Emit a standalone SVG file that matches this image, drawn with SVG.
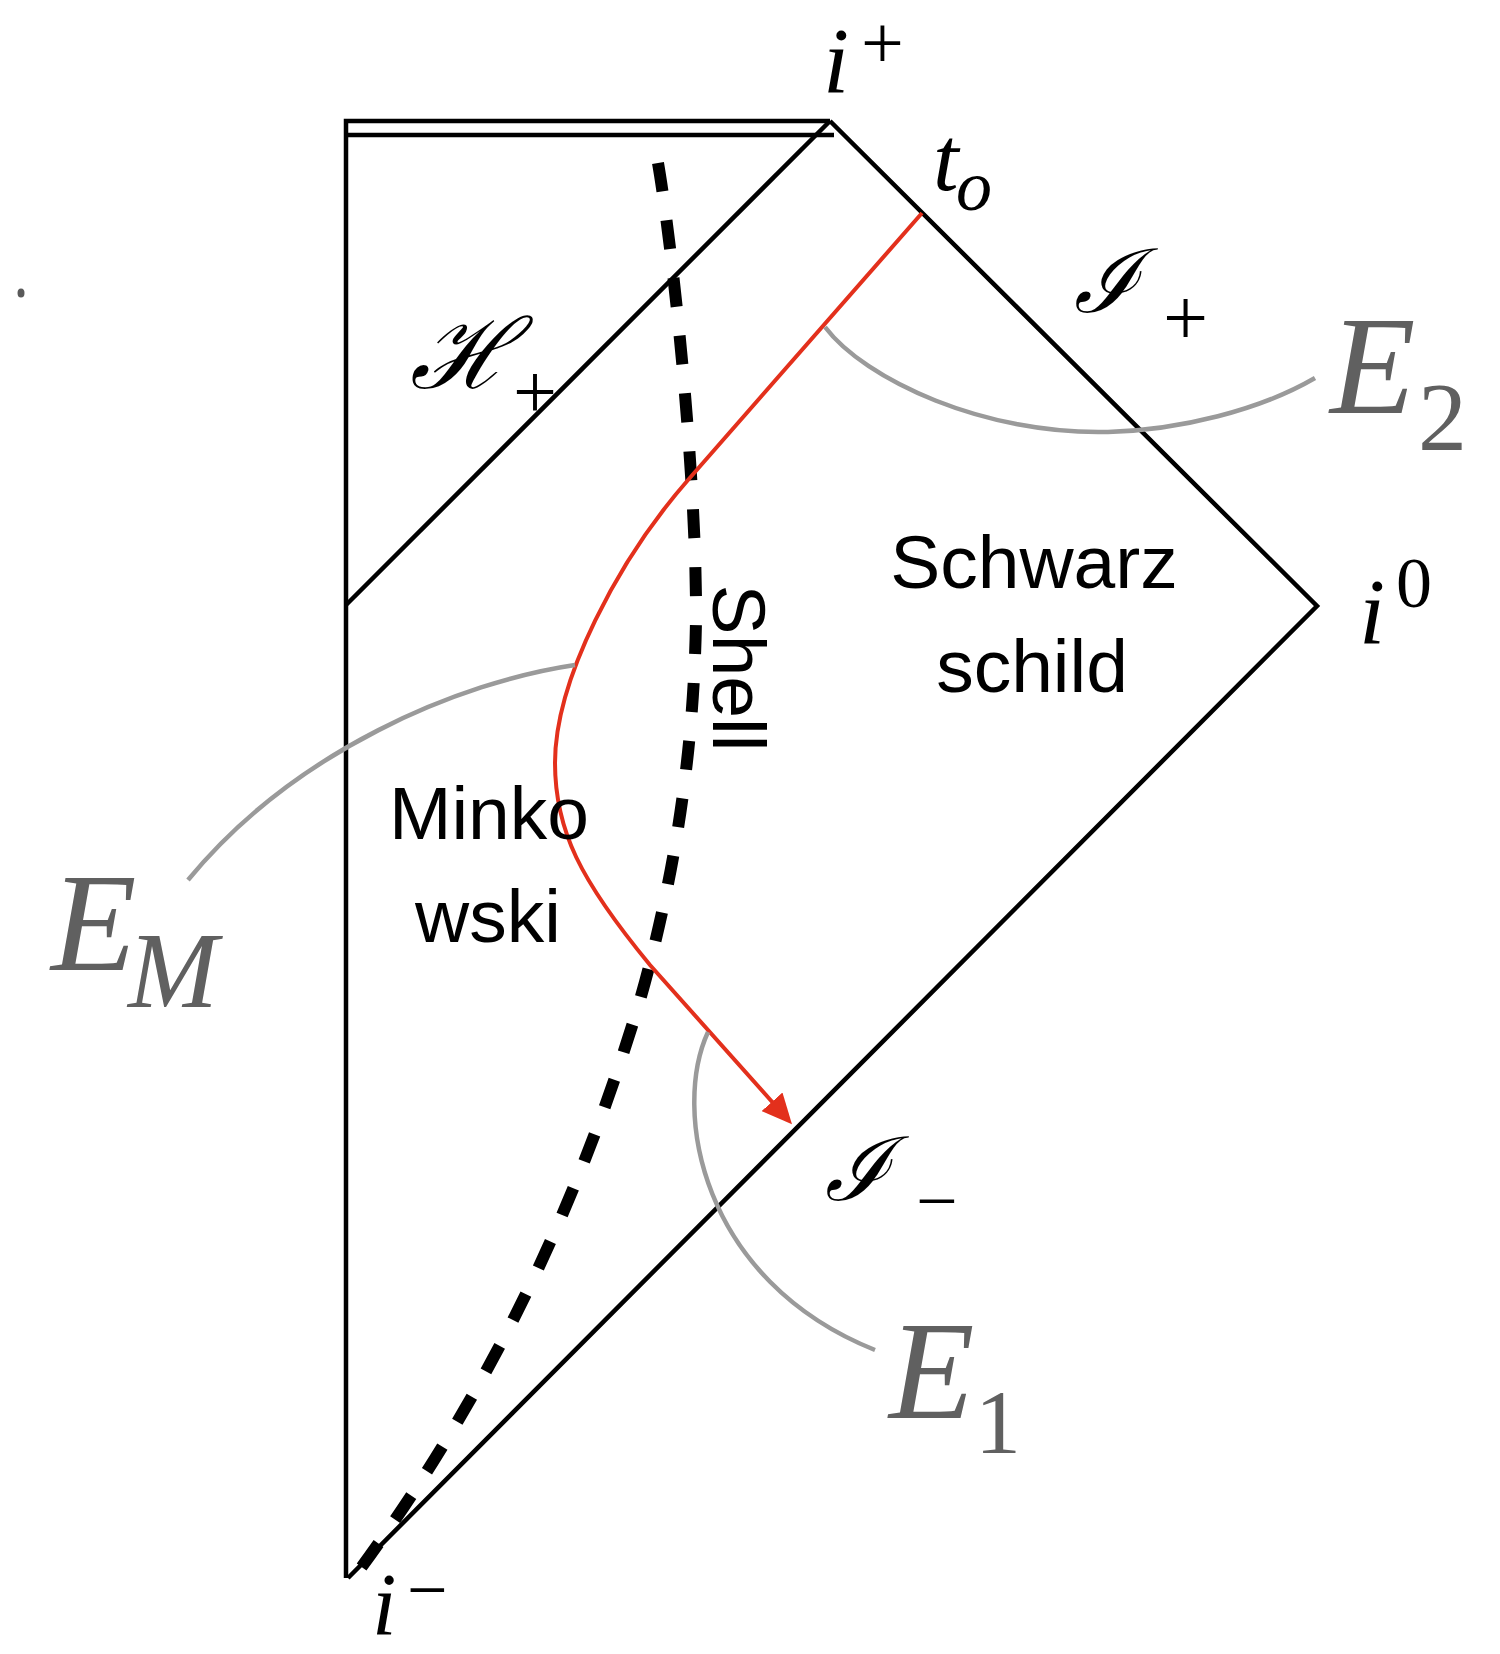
<svg xmlns="http://www.w3.org/2000/svg" width="1500" height="1654" viewBox="0 0 1500 1654">
  <style>
    .edge { fill: none; stroke: #000; stroke-width: 4.5; stroke-linecap: butt; }
    .shell { fill: none; stroke: #000; stroke-width: 12; stroke-dasharray: 29 29; }
    .world { fill: none; stroke: #e3301c; stroke-width: 4; }
    .leader { fill: none; stroke: #9a9a9a; stroke-width: 4.5; }
    .region { font-family: "Liberation Sans", Arial, sans-serif; font-size: 75px; fill: #000; }
    .math { font-family: "Liberation Serif", "Times New Roman", serif; font-style: italic; fill: #000; }
    .rom { font-family: "Liberation Serif", "Times New Roman", serif; fill: #000; }
    .script { font-family: "DejaVu Serif", serif; font-style: italic; fill: #000; }
    .elabel { font-family: "Liberation Serif", "Times New Roman", serif; font-style: italic; fill: #606060; }
    .esub { font-family: "Liberation Serif", "Times New Roman", serif; fill: #606060; }
  </style>
  <defs>
    <marker id="redArrow" markerUnits="userSpaceOnUse" viewBox="0 0 30 28" markerWidth="30" markerHeight="28" refX="15" refY="14" orient="auto">
      <path d="M0,0 L30,14 L0,28 Z" fill="#e3301c"/>
    </marker>
  </defs>
  <rect width="1500" height="1654" fill="#fff"/>

  <!-- Penrose diagram frame -->
  <g id="frame">
    <path class="edge" d="M346,1578 L346,121 L830,121"/>
    <path class="edge" d="M346,135 L834,135"/>
    <path class="edge" d="M830,121 L1317,606 L348,1578"/>
    <path class="edge" d="M346,605 L830,121"/>
  </g>

  <g id="shell-line">
    <path class="shell" d="M658,163 C673,250 697,480 696,620 C694,747 676,873 640,1000 C583,1190 494,1390 352,1580"/>
  </g>

  <g id="connectors">
    <path id="worldline" class="world" marker-end="url(#redArrow)" d="M922,213 L688,480 C618,560 555,680 555,763 C555,830 580,880 650,965 L782,1113"/>
    <path id="leader-E2" class="leader" d="M825,327 C865,380 985,435 1108,432 C1180,430 1260,410 1315,378"/>
    <path id="leader-EM" class="leader" d="M575,665 C460,682 295,750 188,880"/>
    <path id="leader-E1" class="leader" d="M708,1032 C672,1110 700,1280 875,1350"/>
  </g>

  <g id="dot">
    <ellipse cx="21" cy="293" rx="3.5" ry="4.5" fill="#5a5a5a"/>
  </g>

  <g id="label-iplus">
    <text class="math" x="823" y="92" font-size="94">i</text>
    <text class="rom" x="861" y="68" font-size="76">+</text>
  </g>
  <g id="label-to">
    <text class="math" x="933" y="190" font-size="92">t</text>
    <text class="math" x="956" y="210" font-size="72">o</text>
  </g>
  <g id="label-scriplus">
    <text class="script" x="1074" y="312" font-size="88">ℐ</text>
    <text class="rom" x="1163" y="345" font-size="80">+</text>
  </g>
  <g id="label-horizon">
    <text class="script" x="410" y="388" font-size="98">ℋ</text>
    <text class="rom" x="513" y="418" font-size="78">+</text>
  </g>
  <g id="label-i0">
    <text class="math" x="1359" y="643" font-size="94">i</text>
    <text class="rom" x="1396" y="607" font-size="72">0</text>
  </g>
  <g id="label-scriminus">
    <text class="script" x="825" y="1200" font-size="88">ℐ</text>
    <text class="rom" x="916" y="1226" font-size="74">−</text>
  </g>
  <g id="label-iminus">
    <text class="math" x="372" y="1634" font-size="88">i</text>
    <text class="rom" x="407" y="1614" font-size="72">−</text>
  </g>

  <g id="region-schwarzschild">
    <text class="region" x="1034" y="588" text-anchor="middle">Schwarz</text>
    <text class="region" x="1032" y="692" text-anchor="middle">schild</text>
  </g>
  <g id="region-minkowski">
    <text class="region" x="489" y="839" text-anchor="middle" font-size="77">Minko</text>
    <text class="region" x="488" y="942" text-anchor="middle" font-size="77">wski</text>
  </g>
  <g id="label-shell">
    <text class="region" transform="translate(713,668) rotate(90)" text-anchor="middle">Shell</text>
  </g>

  <g id="label-E2">
    <text class="elabel" x="1330" y="413" font-size="140">E</text>
    <text class="esub" x="1418" y="450" font-size="98">2</text>
  </g>
  <g id="label-E1">
    <text class="elabel" x="889" y="1418" font-size="140">E</text>
    <text class="esub" x="975" y="1453" font-size="92">1</text>
  </g>
  <g id="label-EM">
    <text class="elabel" x="51" y="970" font-size="140">E</text>
    <text class="elabel" x="128" y="1007" font-size="108">M</text>
  </g>
</svg>
